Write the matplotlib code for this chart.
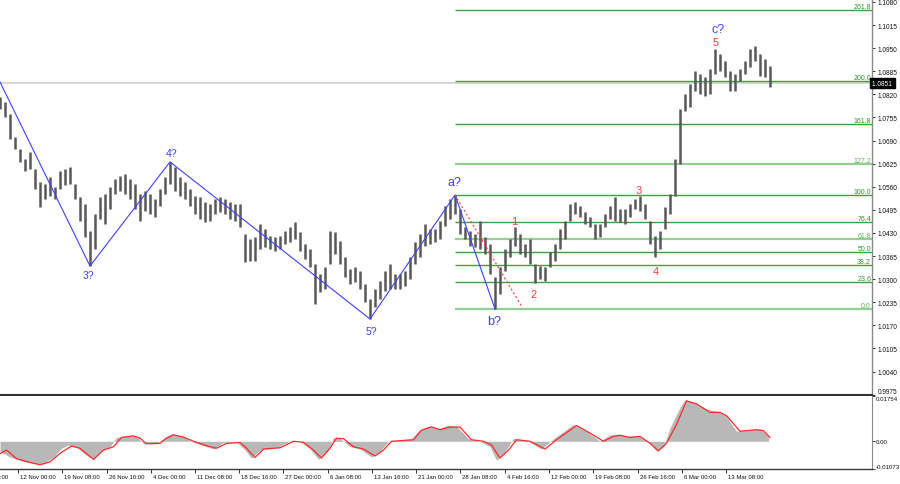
import matplotlib
matplotlib.use("Agg")
import matplotlib.pyplot as plt
from matplotlib.transforms import blended_transform_factory as blend, ScaledTranslation

plt.rcParams['font.family'] = ['Liberation Sans', 'DejaVu Sans']

# ---------------- data ----------------
highs = [1.0813, 1.0798, 1.0765, 1.0700, 1.0666, 1.0638, 1.0657, 1.0610, 1.0573, 1.0568,
         1.0587, 1.0560, 1.0604, 1.0610, 1.0616, 1.0568, 1.0531, 1.0512, 1.0436, 1.0483,
         1.0531, 1.0540, 1.0560, 1.0582, 1.0590, 1.0596, 1.0582, 1.0568, 1.0540, 1.0548,
         1.0540, 1.0526, 1.0554, 1.0587, 1.0630, 1.0616, 1.0587, 1.0573, 1.0554, 1.0534,
         1.0531, 1.0517, 1.0512, 1.0526, 1.0531, 1.0526, 1.0517, 1.0512, 1.0512, 1.0427,
         1.0413, 1.0419, 1.0455, 1.0441, 1.0422, 1.0419, 1.0422, 1.0436, 1.0447, 1.0460,
         1.0433, 1.0399, 1.0385, 1.0343, 1.0315, 1.0334, 1.0436, 1.0433, 1.0407, 1.0362,
         1.0329, 1.0334, 1.0323, 1.0286, 1.0244, 1.0272, 1.0295, 1.0323, 1.0343, 1.0315,
         1.0315, 1.0323, 1.0362, 1.0405, 1.0427, 1.0455, 1.0441, 1.0441, 1.0463, 1.0506,
         1.0526, 1.0537, 1.0497, 1.0447, 1.0436, 1.0427, 1.0463, 1.0419, 1.0399, 1.0306,
         1.0334, 1.0385, 1.0413, 1.0447, 1.0427, 1.0399, 1.0413, 1.0343, 1.0337, 1.0334,
         1.0376, 1.0399, 1.0441, 1.0463, 1.0512, 1.0517, 1.0506, 1.0488, 1.0474, 1.0455,
         1.0455, 1.0483, 1.0506, 1.0531, 1.0497, 1.0497, 1.0512, 1.0526, 1.0534, 1.0512,
         1.0463, 1.0422, 1.0436, 1.0503, 1.0540, 1.0638, 1.0779, 1.0821, 1.0849, 1.0886,
         1.0877, 1.0869, 1.0891, 1.0948, 1.0934, 1.0914, 1.0886, 1.0877, 1.0891, 1.0914,
         1.0948, 1.0956, 1.0934, 1.0920, 1.0900]
lows = [1.0779, 1.0756, 1.0694, 1.0666, 1.0630, 1.0604, 1.0610, 1.0554, 1.0503, 1.0526,
        1.0534, 1.0526, 1.0554, 1.0565, 1.0568, 1.0526, 1.0463, 1.0419, 1.0337, 1.0385,
        1.0469, 1.0455, 1.0497, 1.0540, 1.0548, 1.0540, 1.0526, 1.0497, 1.0463, 1.0491,
        1.0483, 1.0474, 1.0506, 1.0540, 1.0568, 1.0548, 1.0534, 1.0526, 1.0506, 1.0483,
        1.0469, 1.0460, 1.0463, 1.0483, 1.0488, 1.0483, 1.0469, 1.0463, 1.0447, 1.0348,
        1.0351, 1.0351, 1.0385, 1.0390, 1.0385, 1.0379, 1.0385, 1.0399, 1.0405, 1.0413,
        1.0379, 1.0357, 1.0334, 1.0230, 1.0264, 1.0272, 1.0343, 1.0371, 1.0343, 1.0306,
        1.0286, 1.0292, 1.0272, 1.0236, 1.0188, 1.0222, 1.0244, 1.0267, 1.0272, 1.0272,
        1.0272, 1.0281, 1.0301, 1.0343, 1.0362, 1.0393, 1.0399, 1.0405, 1.0413, 1.0450,
        1.0469, 1.0483, 1.0427, 1.0413, 1.0393, 1.0390, 1.0385, 1.0371, 1.0315, 1.0216,
        1.0258, 1.0323, 1.0362, 1.0393, 1.0371, 1.0362, 1.0343, 1.0289, 1.0301, 1.0295,
        1.0334, 1.0351, 1.0385, 1.0413, 1.0463, 1.0483, 1.0474, 1.0455, 1.0447, 1.0413,
        1.0419, 1.0447, 1.0469, 1.0463, 1.0460, 1.0455, 1.0474, 1.0497, 1.0491, 1.0469,
        1.0399, 1.0362, 1.0385, 1.0441, 1.0483, 1.0534, 1.0624, 1.0773, 1.0785, 1.0829,
        1.0821, 1.0815, 1.0821, 1.0877, 1.0886, 1.0869, 1.0829, 1.0829, 1.0858, 1.0877,
        1.0897, 1.0914, 1.0872, 1.0869, 1.0841]
last_price = 1.0851

price_ticks = [0.9975, 1.0040, 1.0105, 1.0170, 1.0235, 1.0300, 1.0365, 1.0430, 1.0495,
               1.0560, 1.0625, 1.0690, 1.0755, 1.0820, 1.0885, 1.0950, 1.1015, 1.1080]

# wave structure (bar index, price)
wave_idx = [0, 18, 34, 74, 91, 99]
wave_price = [1.0855, 1.0337, 1.0630, 1.0188, 1.0537, 1.0216]
wave_labels = ['', '3?', '4?', '5?', 'a?', 'b?']
c_idx, c_label = 143, 'c?'
sub_idx = [103, 107, 128, 131, 143]
sub_labels = ['1', '2', '3', '4', '5']
sub_is_high = [True, False, True, False, True]
dotted_idx = [91, 104.4]
dotted_price = [1.0537, 1.0222]

fib_ratios = [0.0, 23.6, 38.2, 50.0, 61.8, 76.4, 100.0, 127.2, 161.8, 200.0, 261.8]
fib_light = [0.0, 61.8, 127.2]
fib_high, fib_low = 1.0537, 1.0216

# indicator (MACD histogram and signal), x in bar index
hist_x = [0, 2, 4, 6.7, 8.7, 10.7, 12.3, 13.7, 15.3, 17.3, 18.7, 20, 22, 23.3, 25.3, 27.3, 28.7,
          31.3, 33.3, 34.3, 36.3, 38.3, 40.7, 42.7, 44.7, 47.3, 49, 50.3, 52, 55.3, 58, 60, 62,
          63.7, 65.7, 66.7, 68, 70, 72, 74.3, 76, 77.7, 82.3, 83.7, 85.7, 87.7, 89.7, 91.3,
          93.7, 96, 98, 99.3, 101, 102.7, 105.3, 108.3, 110.7, 114.7, 117.3, 120, 122, 123.7,
          125.7, 127.7, 129.7, 131.3, 132.7, 134, 136, 137, 138.7, 141.3, 143.3, 145, 147.3,
          150, 152, 153.7]
hist_v = [-0.0040, -0.0061, -0.0074, -0.0087, -0.0087, -0.0061, -0.0027, -0.0014, -0.0024,
          -0.0054, -0.0070, -0.0041, -0.0021, 0.0015, 0.0021, 0.0019, -0.0008, -0.0008, 0.0019,
          0.0028, 0.0023, -0.0001, -0.0017, -0.0030, -0.0004, -0.0002, -0.0034, -0.0065,
          -0.0034, -0.0025, 0.0001, -0.0001, -0.0030, -0.0070, -0.0034, 0.0015, 0.0012,
          -0.0021, -0.0030, -0.0061, -0.0040, 0.0001, 0.0010, 0.0041, 0.0059, 0.0049, 0.0063,
          0.0059, 0.0010, -0.0001, -0.0021, -0.0074, -0.0041, 0.0012, 0.0004, -0.0030, 0.0010,
          0.0065, 0.0039, 0.0001, 0.0025, 0.0028, 0.0019, 0.0023, -0.0002, -0.0038, -0.0021,
          0.0052, 0.0132, 0.0161, 0.0152, 0.0125, 0.0116, 0.0103, 0.0039, 0.0045, 0.0048, 0.0019]
sig_x = [0, 1.3, 3.3, 5.3, 8, 10, 12, 14.3, 16, 18.7, 20.7, 22.7, 24.3, 26.7, 28, 29.3, 32,
         33.3, 34.7, 36.7, 38.7, 41.3, 43.3, 45.3, 48, 49.3, 51, 52.7, 56, 58.7, 60.7, 62.7,
         64.3, 66, 67.3, 68.7, 70.7, 72.7, 75, 76.7, 78.3, 82.7, 84.3, 86.3, 88, 90, 92, 94.3,
         96.7, 98.3, 100, 101.7, 103.3, 106, 109, 111.3, 115.3, 118, 120.7, 122.7, 124, 126,
         128, 130, 131.7, 133.3, 135.3, 137.3, 139.3, 142, 144, 145.3, 148, 151.3, 152.7, 154]
sig_v = [-0.0048, -0.0034, -0.0067, -0.0078, -0.0091, -0.0080, -0.0047, -0.0018, -0.0027,
         -0.0070, -0.0034, -0.0021, 0.0015, 0.0021, 0.0012, -0.0010, -0.0008, 0.0012, 0.0025,
         0.0016, 0.0, -0.0017, -0.0027, -0.0008, -0.0005, -0.0027, -0.0063, -0.0030, -0.0025,
         0.0, -0.0004, -0.0034, -0.0065, -0.0027, 0.0012, 0.0010, -0.0021, -0.0030, -0.0057,
         -0.0034, 0.0, 0.0006, 0.0043, 0.0056, 0.0045, 0.0055, 0.0055, 0.0006, 0.0, -0.0014,
         -0.0065, -0.0034, 0.0006, 0.0, -0.0030, 0.0006, 0.0061, 0.0032, 0.0, 0.0019, 0.0023,
         0.0015, 0.0019, -0.0008, -0.0037, -0.0008, 0.0065, 0.0156, 0.0145, 0.0112, 0.0112,
         0.0099, 0.0039, 0.0045, 0.0041, 0.0015]
ind_min, ind_max = -0.01073, 0.01754

date_labels = ['4 Nov 16:00', '12 Nov 00:00', '19 Nov 08:00', '26 Nov 16:00', '4 Dec 00:00',
               '11 Dec 08:00', '18 Dec 16:00', '27 Dec 00:00', '6 Jan 08:00', '13 Jan 16:00',
               '21 Jan 00:00', '28 Jan 08:00', '4 Feb 16:00', '12 Feb 00:00', '19 Feb 08:00',
               '26 Feb 16:00', '6 Mar 00:00', '13 Mar 08:00']
date_pos = [-5.2, 3.6, 12.4, 21.4, 30.2, 39.0, 47.8, 56.6, 65.6, 74.4, 83.2, 92.0, 101.0,
            109.8, 118.6, 127.6, 136.4, 145.2]

# ---------------- figure ----------------
W, H = 900, 485
fig = plt.figure(figsize=(W / 100, H / 100), dpi=100)
fig.patch.set_facecolor('white')
ax = fig.add_axes([0, 1 - 396 / H, 872 / W, 396 / H])
ax2 = fig.add_axes([0, 1 - 470 / H, 872 / W, 73 / H])

XMAX = 872 / 5.0
ax.set_xlim(0, XMAX)
ax.set_ylim(0.99741, 1.10884)
ax2.set_xlim(0, XMAX)
ax2.set_ylim(ind_min, ind_max)

BLUE = '#4040ff'
RED = '#ff3c3c'
GREEN_D = '#3f9f3f'
GREEN_L = '#93cf93'

# current price line
ax.axhline(last_price, color='#cfcfcf', lw=1.2, zorder=1)

# fibonacci levels
for r in fib_ratios:
    lvl = fib_low + r / 100.0 * (fib_high - fib_low)
    light = r in fib_light
    ax.plot([wave_idx[4], XMAX], [lvl, lvl], color=GREEN_L if light else GREEN_D,
            lw=1.6 if light else 1.0, zorder=2, solid_capstyle='butt')
    ax.text(XMAX - 0.2, lvl, '%.1f' % r, ha='right', va='bottom', fontsize=5.0,
            color='#5cb35c' if light else '#2f8f2f', zorder=3)

# bars
idx = list(range(len(highs)))
ax.vlines(idx, lows, highs, color='#585858', lw=1.8, zorder=4)

# wave lines
ax.plot(wave_idx, wave_price, color=BLUE, lw=0.8, zorder=5)
ax.plot(dotted_idx, dotted_price, color=RED, lw=0.9, ls=(0, (1.5, 2)), zorder=5)

offsets = {'3?': (-1.4, -6.8), '4?': (1.4, 6.5), '5?': (0.7, -8.6),
           'a?': (0, 9.0), 'b?': (-0.7, -8.6)}
for i, p, lab in zip(wave_idx, wave_price, wave_labels):
    if not lab:
        continue
    big = lab in ('a?', 'b?')
    ax.annotate(lab, xy=(i, p), xytext=offsets[lab], textcoords='offset points',
                ha='center', va='center', color=BLUE, fontsize=9 if big else 7.5, zorder=6)
ax.annotate(c_label, xy=(c_idx, highs[c_idx]), xytext=(2.2, 14.0), textcoords='offset points',
            ha='center', va='center', color=BLUE, fontsize=9, zorder=6)

sub_off = {'1': (-0.7, 4.2), '2': (-0.7, -8.0), '3': (-0.7, 4.2), '4': (0.7, -9.7),
           '5': (0.7, 5.2)}
for i, lab, hi in zip(sub_idx, sub_labels, sub_is_high):
    p = highs[i] if hi else lows[i]
    ax.annotate(lab, xy=(i, p), xytext=sub_off[lab], textcoords='offset points',
                ha='center', va='center', color=RED, fontsize=8, zorder=6)

# axes styling main
for s in ('left', 'top'):
    ax.spines[s].set_visible(False)
ax.spines['bottom'].set_color('#333333')
ax.spines['bottom'].set_linewidth(1.5)
ax.spines['right'].set_color('#8a8a8a')
ax.spines['right'].set_linewidth(1.0)
ax.set_xticks([])
ax.yaxis.tick_right()
ax.set_yticks(price_ticks)
plabs = ax.set_yticklabels(['%.4f' % t for t in price_ticks])
plabs[0].set_va('bottom')
ax.tick_params(axis='y', direction='out', length=2.5, width=0.6, pad=1.5, labelsize=4.7,
               colors='#111111')
ax.text(1.0, last_price, '1.0851 ', transform=blend(ax.transAxes, ax.transData),
        ha='left', va='center', fontsize=4.7, color='white', zorder=10, clip_on=False,
        bbox=dict(boxstyle='square,pad=0.25', fc='black', ec='black'))

# indicator
ax2.fill_between(hist_x, hist_v, 0, color='#b8b8b8', lw=0, zorder=2)
ax2.plot(sig_x, sig_v, color='#ff2a2a', lw=0.9, zorder=3)
ax2.spines['left'].set_visible(False)
ax2.spines['top'].set_visible(False)
ax2.spines['bottom'].set_color('#3a3a3a')
ax2.spines['bottom'].set_linewidth(1.0)
ax2.spines['right'].set_color('#8a8a8a')
ax2.yaxis.tick_right()
ax2.set_yticks([ind_min, 0.0, ind_max])
ylabs = ax2.set_yticklabels(['%.5f' % ind_min, '0.00', '%.5f' % ind_max])
ylabs[0].set_va('bottom')
ylabs[2].set_va('top')
ylabs[2].set_transform(ylabs[2].get_transform() + ScaledTranslation(0, -2 / 72, fig.dpi_scale_trans))
ax2.tick_params(axis='y', direction='out', length=2.0, width=0.6, pad=1.0, labelsize=4.4,
                colors='#111111')
ax2.set_xticks(date_pos[1:])
ax2.set_xticklabels([])
ax2.tick_params(axis='x', direction='out', length=3, width=0.7, colors='#333333')
for pos, lab in zip(date_pos, date_labels):
    ax2.annotate(lab, xy=(pos, 0), xycoords=blend(ax2.transData, ax2.transAxes),
                 xytext=(1.3, -5.2), textcoords='offset points', ha='left', va='center',
                 fontsize=4.3, color='#111111', annotation_clip=False)

fig.savefig('out.png', dpi=100, facecolor='white')
